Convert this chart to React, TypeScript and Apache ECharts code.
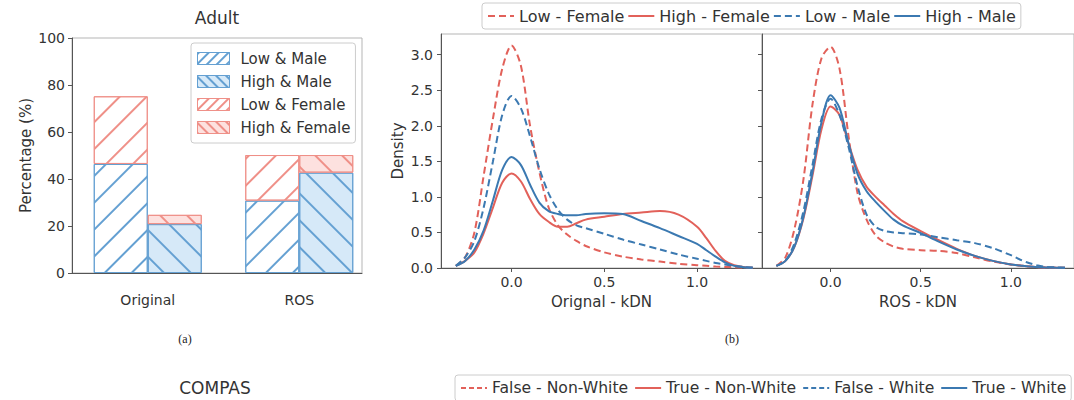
import React, { useEffect, useRef } from "react";
import * as echarts from "echarts";

// ---------- data: bar chart (Adult) ----------
const barCategories = ["Original", "ROS"];
const lowMale = [46.4, 30.8];
const lowFemale = [28.8, 19.4];
const highMale = [20.8, 42.7];
const highFemale = [3.95, 7.5];

// ---------- data: density curves ----------
const densX = [-0.3, -0.25, -0.2, -0.15, -0.1, -0.05, 0, 0.05, 0.1, 0.15, 0.2, 0.25, 0.3, 0.35, 0.4, 0.5, 0.6, 0.7, 0.8, 0.9, 1.0, 1.05, 1.1, 1.15, 1.2, 1.25, 1.3];
const origLowFemale = [0.03, 0.15, 0.5, 1.3, 2.1, 2.8, 3.13, 2.85, 2.0, 1.35, 0.85, 0.6, 0.47, 0.38, 0.31, 0.22, 0.16, 0.12, 0.09, 0.06, 0.04, 0.03, 0.02, 0.015, 0.01, 0.006, 0.004];
const origHighFemale = [0.03, 0.1, 0.22, 0.49, 0.85, 1.2, 1.33, 1.22, 0.97, 0.76, 0.65, 0.58, 0.58, 0.63, 0.68, 0.72, 0.76, 0.78, 0.8, 0.75, 0.58, 0.42, 0.24, 0.1, 0.04, 0.015, 0.005];
const origLowMale = [0.03, 0.15, 0.38, 0.85, 1.5, 2.15, 2.42, 2.25, 1.85, 1.4, 1.05, 0.82, 0.68, 0.6, 0.56, 0.48, 0.4, 0.33, 0.26, 0.19, 0.13, 0.1, 0.07, 0.05, 0.03, 0.015, 0.007];
const origHighMale = [0.03, 0.1, 0.26, 0.53, 0.95, 1.38, 1.56, 1.45, 1.17, 0.92, 0.8, 0.76, 0.74, 0.74, 0.76, 0.77, 0.76, 0.66, 0.56, 0.45, 0.34, 0.25, 0.16, 0.08, 0.03, 0.012, 0.005];
const rosLowFemale = [0.03, 0.15, 0.55, 1.25, 2.3, 2.95, 3.11, 2.8, 1.85, 1.05, 0.68, 0.46, 0.36, 0.3, 0.27, 0.25, 0.24, 0.21, 0.15, 0.09, 0.05, 0.035, 0.02, 0.012, 0.008, 0.005, 0.003];
const rosHighFemale = [0.03, 0.1, 0.3, 0.7, 1.3, 1.95, 2.27, 2.15, 1.75, 1.38, 1.14, 1.0, 0.88, 0.76, 0.66, 0.52, 0.39, 0.27, 0.17, 0.1, 0.05, 0.035, 0.02, 0.012, 0.008, 0.005, 0.003];
const rosLowMale = [0.03, 0.1, 0.35, 0.8, 1.45, 2.1, 2.38, 2.15, 1.7, 1.15, 0.75, 0.58, 0.52, 0.5, 0.49, 0.47, 0.43, 0.39, 0.35, 0.28, 0.18, 0.12, 0.07, 0.035, 0.015, 0.008, 0.004];
const rosHighMale = [0.03, 0.1, 0.3, 0.72, 1.35, 2.05, 2.43, 2.25, 1.75, 1.32, 1.08, 0.93, 0.8, 0.68, 0.6, 0.49, 0.37, 0.26, 0.17, 0.1, 0.05, 0.035, 0.02, 0.012, 0.008, 0.005, 0.003];
const densityTicksX = [0, 0.5, 1.0];
const densityTicksY = [0, 0.5, 1.0, 1.5, 2.0, 2.5, 3.0];

const barLegendNames = ["Low & Male", "High & Male", "Low & Female", "High & Female"];
const topLegendNames = ["Low - Female", "High - Female", "Low - Male", "High - Male"];
const compasLegendNames = ["False - Non-White", "True - Non-White", "False - White", "True - White"];

const RED = "#e2615a";
const BLUE = "#3b79b1";
const BLUE_EDGE = "#64a0d2";
const RED_EDGE = "#ef9088";
const BLUE_FILL = "#d6e9f8";
const RED_FILL = "#fde1df";
const FONT = "DejaVu Sans";
const TEXT = "#333";
const AXIS = "#555";

// dir = -1 gives "/" hatching, dir = 1 gives "\" hatching
const hatch = (color: string, dir: number, gap: number) => ({
  symbol: "rect",
  symbolSize: 1,
  dashArrayX: [1, 0],
  dashArrayY: [1.2, gap],
  rotation: (dir * Math.PI) / 4,
  color,
});

const barStyles: Record<string, { fill: string; edge: string; dir: number }> = {
  "Low & Male": { fill: "#ffffff", edge: BLUE_EDGE, dir: -1 },
  "High & Male": { fill: BLUE_FILL, edge: BLUE_EDGE, dir: 1 },
  "Low & Female": { fill: "#ffffff", edge: RED_EDGE, dir: -1 },
  "High & Female": { fill: RED_FILL, edge: RED_EDGE, dir: 1 },
};

const pts = (ys: number[]) => densX.map((x, i) => [x, ys[i]]);

export default function App() {
  const ref = useRef<HTMLDivElement>(null);
  useEffect(() => {
    document.body.style.margin = "0";
    if (!ref.current) return;
    const chart = echarts.init(ref.current, undefined, { renderer: "svg" });

    const densityXAxis = (gridIndex: number, name: string) => ({
      type: "value",
      gridIndex,
      min: -0.38,
      max: 1.35,
      name,
      nameLocation: "middle",
      nameGap: 26,
      nameTextStyle: { fontSize: 15, color: TEXT, fontFamily: FONT },
      splitLine: { show: false },
      axisLine: { onZero: false, lineStyle: { color: AXIS } },
      axisTick: { customValues: densityTicksX, length: 4, lineStyle: { color: AXIS } },
      axisLabel: {
        customValues: densityTicksX,
        formatter: (v: number) => v.toFixed(1),
        margin: 7,
        fontSize: 14,
        color: TEXT,
        fontFamily: FONT,
      },
    });
    const densityYAxis = (gridIndex: number, showLabel: boolean) => ({
      type: "value",
      gridIndex,
      min: 0,
      max: 3.29,
      name: showLabel ? "Density" : "",
      nameLocation: "middle",
      nameGap: 36,
      nameTextStyle: { fontSize: 15, color: TEXT, fontFamily: FONT },
      splitLine: { show: false },
      axisLine: { onZero: false, lineStyle: { color: AXIS } },
      axisTick: { customValues: densityTicksY, length: 4, lineStyle: { color: AXIS } },
      axisLabel: {
        show: showLabel,
        customValues: densityTicksY,
        formatter: (v: number) => v.toFixed(1),
        margin: 8,
        fontSize: 14,
        color: TEXT,
        fontFamily: FONT,
      },
    });

    const line = (name: string, color: string, dashed: boolean, data: number[], axis: number) => ({
      type: "line",
      name,
      xAxisIndex: axis,
      yAxisIndex: axis,
      data: pts(data),
      symbol: "none",
      showSymbol: false,
      smooth: 0.3,
      lineStyle: { color, width: 2, type: dashed ? [7, 4] : "solid" },
      itemStyle: { color },
    });

    const bar = (name: string, stack: string, values: number[]) => {
      const s = barStyles[name];
      return {
        type: "bar",
        name,
        stack,
        xAxisIndex: 0,
        yAxisIndex: 0,
        barWidth: 54,
        barGap: "0%",
        data: values,
        itemStyle: { color: s.fill, borderColor: s.edge, borderWidth: 1, decal: hatch(s.edge, s.dir, 17) },
      };
    };

    const lineLegend = (data: string[], left: number, top: number, fontSize: number, gap: number) => ({
      data,
      orient: "horizontal",
      left,
      top,
      itemWidth: 26,
      itemHeight: 14,
      itemGap: gap,
      padding: [5, 5],
      borderColor: "#cccccc",
      borderWidth: 1,
      borderRadius: 3,
      backgroundColor: "#ffffff",
      itemStyle: { opacity: 0 },
      textStyle: { fontSize, color: TEXT, fontFamily: FONT },
      selectedMode: false,
    });

    const option: any = {
      animation: false,
      textStyle: { fontFamily: FONT },
      grid: [
        { left: 72, top: 38, width: 303, height: 235, show: false },
        { left: 441, top: 34, width: 321, height: 234, show: true, borderColor: "#b5b5b5", borderWidth: 1 },
        { left: 762, top: 34, width: 326, height: 234, show: true, borderColor: "#b5b5b5", borderWidth: 1 },
        { left: 72, top: 38, width: 290, height: 235, show: true, borderColor: "#b5b5b5", borderWidth: 1 },
      ],
      xAxis: [
        {
          type: "category",
          gridIndex: 0,
          data: barCategories,
          axisLine: { show: false },
          axisTick: { alignWithLabel: true, length: 4, lineStyle: { color: AXIS } },
          axisLabel: { margin: 20, fontSize: 14, color: TEXT, fontFamily: FONT },
        },
        densityXAxis(1, "Orignal - kDN"),
        densityXAxis(2, "ROS - kDN"),
        {
          type: "value",
          gridIndex: 3,
          min: 0,
          max: 1,
          splitLine: { show: false },
          axisTick: { show: false },
          axisLabel: { show: false },
          axisLine: { onZero: false, lineStyle: { color: AXIS } },
        },
      ],
      yAxis: [
        {
          type: "value",
          gridIndex: 0,
          min: 0,
          max: 100,
          interval: 20,
          name: "Percentage (%)",
          nameLocation: "middle",
          nameGap: 39,
          nameTextStyle: { fontSize: 15, color: TEXT, fontFamily: FONT },
          splitLine: { show: false },
          axisLine: { show: true, onZero: false, lineStyle: { color: AXIS } },
          axisTick: { show: true, length: 4, lineStyle: { color: AXIS } },
          axisLabel: { margin: 7, fontSize: 14, color: TEXT, fontFamily: FONT },
        },
        densityYAxis(1, true),
        densityYAxis(2, false),
        { type: "value", gridIndex: 3, min: 0, max: 1, show: false },
      ],
      legend: [
        {
          data: barLegendNames.map((n) => ({
            name: n,
            itemStyle: {
              color: barStyles[n].fill,
              borderColor: barStyles[n].edge,
              borderWidth: 1,
              decal: hatch(barStyles[n].edge, barStyles[n].dir, 5),
            },
          })),
          orient: "vertical",
          left: 191,
          top: 43,
          icon: "rect",
          itemWidth: 32,
          itemHeight: 12,
          itemGap: 8,
          padding: [8, 5, 8, 6],
          borderColor: "#cccccc",
          borderWidth: 1,
          borderRadius: 3,
          backgroundColor: "rgba(255,255,255,0.85)",
          textStyle: { fontSize: 15, color: TEXT, fontFamily: FONT, padding: [0, 0, 0, 6] },
          selectedMode: false,
        },
        lineLegend(topLegendNames, 482, 3, 16, 3),
        lineLegend(compasLegendNames, 455, 375, 15.6, 6),
      ],
      graphic: [
        { type: "text", x: 217, y: 18, style: { text: "Adult", fontSize: 17, fill: TEXT, fontFamily: FONT, align: "center", verticalAlign: "middle" } },
        { type: "text", x: 185, y: 339, style: { text: "(a)", fontSize: 12, fill: "#222", fontFamily: "Liberation Serif", align: "center", verticalAlign: "middle" } },
        { type: "text", x: 732, y: 339, style: { text: "(b)", fontSize: 12, fill: "#222", fontFamily: "Liberation Serif", align: "center", verticalAlign: "middle" } },
        { type: "text", x: 215, y: 388, style: { text: "COMPAS", fontSize: 17, fill: TEXT, fontFamily: FONT, align: "center", verticalAlign: "middle" } },
      ],
      series: [
        bar("Low & Male", "low", lowMale),
        bar("Low & Female", "low", lowFemale),
        bar("High & Male", "high", highMale),
        bar("High & Female", "high", highFemale),
        line("Low - Female", RED, true, origLowFemale, 1),
        line("High - Female", RED, false, origHighFemale, 1),
        line("Low - Male", BLUE, true, origLowMale, 1),
        line("High - Male", BLUE, false, origHighMale, 1),
        line("Low - Female", RED, true, rosLowFemale, 2),
        line("High - Female", RED, false, rosHighFemale, 2),
        line("Low - Male", BLUE, true, rosLowMale, 2),
        line("High - Male", BLUE, false, rosHighMale, 2),
        { type: "line", name: compasLegendNames[0], xAxisIndex: 1, yAxisIndex: 1, data: [], symbol: "none", lineStyle: { color: RED, width: 2, type: [5, 3] }, itemStyle: { color: RED } },
        { type: "line", name: compasLegendNames[1], xAxisIndex: 1, yAxisIndex: 1, data: [], symbol: "none", lineStyle: { color: RED, width: 2 }, itemStyle: { color: RED } },
        { type: "line", name: compasLegendNames[2], xAxisIndex: 1, yAxisIndex: 1, data: [], symbol: "none", lineStyle: { color: BLUE, width: 2, type: [5, 3] }, itemStyle: { color: BLUE } },
        { type: "line", name: compasLegendNames[3], xAxisIndex: 1, yAxisIndex: 1, data: [], symbol: "none", lineStyle: { color: BLUE, width: 2 }, itemStyle: { color: BLUE } },
      ],
    };
    chart.setOption(option);
    return () => chart.dispose();
  }, []);
  return <div ref={ref} style={{ width: 1074, height: 400 }} />;
}
